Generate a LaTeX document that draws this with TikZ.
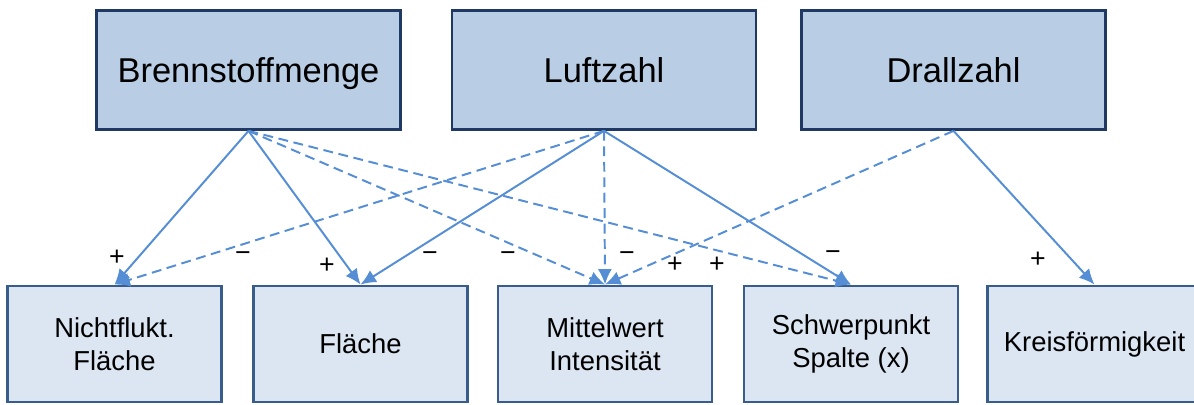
\documentclass[tikz,border=0pt]{standalone}
\usepackage{fontspec}
\setmainfont{Liberation Sans}
\usetikzlibrary{arrows.meta}
\definecolor{topfill}{RGB}{185,205,229}
\definecolor{topline}{RGB}{31,56,100}
\definecolor{botfill}{RGB}{220,230,242}
\definecolor{botline}{RGB}{56,93,138}
\definecolor{link}{RGB}{85,142,213}
\tikzset{
  inbox/.style={draw=topline, fill=topfill, line width=1.8pt, inner sep=0pt, text depth=0pt,
    minimum width=7.6cm, minimum height=2.98cm, font=\fontsize{24.5}{29}\selectfont},
  outbox/.style={draw=botline, fill=botfill, line width=1.5pt, inner sep=0pt, align=center,
    minimum width=5.35cm, minimum height=2.92cm, font=\fontsize{19.5}{23.5}\selectfont},
  effect/.style={draw=link, line width=1.4pt, -{Latex[length=11pt,width=10pt]}},
  weak/.style={effect, dash pattern=on 7pt off 4pt},
  sign/.style={inner sep=0pt, font=\fontsize{19}{19}\selectfont}
}
\begin{document}
\begin{tikzpicture}[x=0.025cm, y=-0.025cm]
  \useasboundingbox (0,0) rectangle (1194,405);
  % inputs
  \node [inbox] (brenn) at (248.5,70) {Brennstoffmenge};
  \node [inbox] (luft) at (604,70) {Luftzahl};
  \node [inbox] (drall) at (953.5,70) {Drallzahl};
  % outputs
  \node [outbox] (nicht) at (114.5,344) {Nichtflukt.\\Fläche};
  \node [outbox] (flaeche) at (360.5,344) {Fläche};
  \node [outbox] (mittel) at (605,344) {Mittelwert\\Intensität};
  \node [outbox] (schwer) at (851,344) {Schwerpunkt\\Spalte (x)};
  \node [outbox] (kreis) at (1094.5,344) {Kreisförmigkeit};
  % links
  \draw [effect] (brenn.south) -- (nicht.north);
  \draw [effect] (brenn.south) -- (flaeche.north);
  \draw [weak] (brenn.south) -- (mittel.north);
  \draw [weak] (brenn.south) -- (schwer.north);
  \draw [weak] (luft.south) -- (nicht.north);
  \draw [effect] (luft.south) -- (flaeche.north);
  \draw [weak] (luft.south) -- (mittel.north);
  \draw [effect] (luft.south) -- (schwer.north);
  \draw [weak] (drall.south) -- (mittel.north);
  \draw [effect] (drall.south) -- (kreis.north);
  % signs
  \node [sign] (s1) at (117,258) {+};
  \node [sign] (s2) at (243,257) {−};
  \node [sign] (s3) at (327,266) {+};
  \node [sign] (s4) at (430,257) {−};
  \node [sign] (s5) at (508,257) {−};
  \node [sign] (s6) at (627,257) {−};
  \node [sign] (s7) at (675,265) {+};
  \node [sign] (s8) at (717,265) {+};
  \node [sign] (s9) at (833,256) {−};
  \node [sign] (s10) at (1038,260) {+};
\end{tikzpicture}
\end{document}
